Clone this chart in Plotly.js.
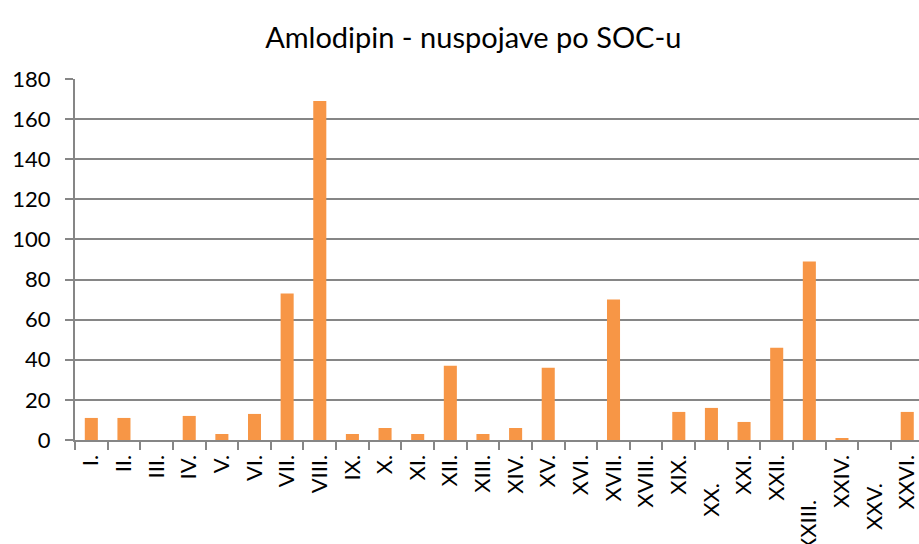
<!DOCTYPE html>
<html>
<head>
<meta charset="utf-8">
<script src="https://cdn.plot.ly/plotly-3.0.1.min.js"></script>
<style>html,body{margin:0;padding:0;background:#fff;}</style>
</head>
<body>
<div id="chart" style="width:919px;height:544px;"></div>
<script>
const categories = ["I.","II.","III.","IV.","V.","VI.","VII.","VIII.","IX.","X.","XI.","XII.","XIII.","XIV.","XV.","XVI.","XVII.","XVIII.","XIX.","XX.","XXI.","XXII.","XXIII.","XXIV.","XXV.","XXVI."];
const values = [11,11,0,12,3,13,73,169,3,6,3,37,3,6,36,0,70,0,14,16,9,46,89,1,0,14];
const yTicks = [0,20,40,60,80,100,120,140,160,180];
const titleText = "Amlodipin - nuspojave po SOC-u";

// visual drop of some rotated labels (as in the reference), in non-breaking spaces
const labelDrop = {"XX.": 5, "XXIII.": 8, "XXV.": 5};
const tickText = categories.map(c => c + "\u00A0".repeat(labelDrop[c] || 0));

const fontFam = "Lato, 'Open Sans', sans-serif";
const trace = {
  type: "bar",
  x: categories,
  y: values,
  marker: {color: "#F79646"},
  hoverinfo: "x+y"
};
const layout = {
  width: 919, height: 544,
  margin: {l: 75, r: 0, t: 79, b: 104, pad: 0},
  paper_bgcolor: "#fff", plot_bgcolor: "#fff",
  bargap: 0.6,
  showlegend: false,
  title: {text: titleText, x: 0.515, xanchor: "center", y: 0.93, yanchor: "middle",
          font: {family: fontFam, size: 29, color: "#000"}},
  xaxis: {
    type: "category",
    range: [-0.5, 25.36],
    tickvals: categories,
    ticktext: tickText,
    tickangle: -90,
    ticks: "outside", ticklen: 8, tickcolor: "#868686", tickwidth: 2,
    tickson: "boundaries",
    showline: true, linecolor: "#868686", linewidth: 2,
    showgrid: false,
    tickfont: {family: fontFam, size: 22, color: "#000"},
    ticklabelstandoff: 4
  },
  yaxis: {
    range: [0, 180],
    tickvals: yTicks,
    ticks: "outside", ticklen: 8, tickcolor: "#868686", tickwidth: 2,
    showline: true, linecolor: "#868686", linewidth: 2,
    showgrid: true, gridcolor: "#868686", gridwidth: 2,
    zeroline: false,
    tickfont: {family: fontFam, size: 22, color: "#000"},
    ticklabelstandoff: 10
  }
};
Plotly.newPlot("chart", [trace], layout, {displayModeBar: false, staticPlot: true});
</script>
</body>
</html>
